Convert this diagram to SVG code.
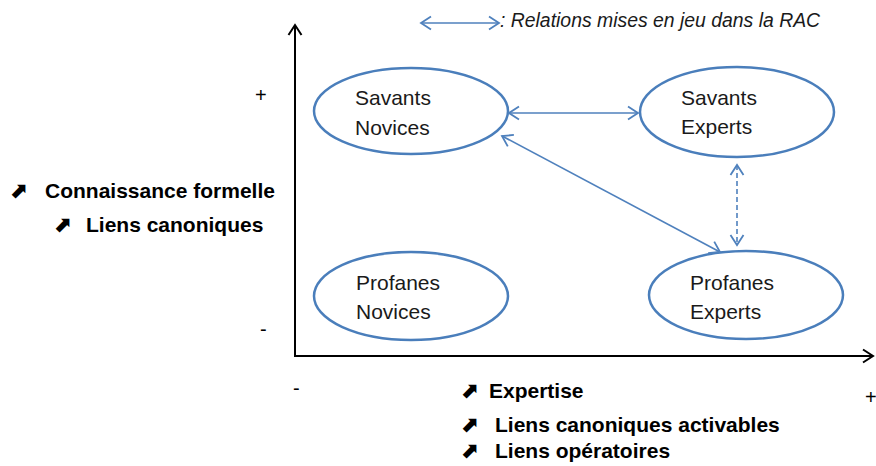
<svg xmlns="http://www.w3.org/2000/svg" width="876" height="466" viewBox="0 0 876 466">
<style>
.node ellipse{fill:none;stroke:#4A7EBB;stroke-width:2.5}
.lbl{font-family:"Liberation Sans",Arial,sans-serif;font-size:21px;fill:#1a1a1a}
.bold{font-family:"Liberation Sans",Arial,sans-serif;font-size:21px;font-weight:bold;fill:#000}
.sym{font-family:"DejaVu Sans",sans-serif;font-size:22px;font-weight:bold;fill:#000}
.conn{stroke:#4F81BD;stroke-width:1.6;fill:none}
.axis{stroke:#000;stroke-width:2;fill:none}
.sign{font-family:"Liberation Sans",Arial,sans-serif;font-size:20px;fill:#000}
</style>
<defs>
<marker id="ab" markerWidth="14" markerHeight="16" refX="11" refY="7" orient="auto-start-reverse" markerUnits="userSpaceOnUse" viewBox="0 0 14 14">
<path d="M1,0.5 L11,7 L1,13.5" fill="none" stroke="#4F81BD" stroke-width="1.8"/>
</marker>
<marker id="ak" markerWidth="14" markerHeight="16" refX="11" refY="7" orient="auto" markerUnits="userSpaceOnUse" viewBox="0 0 14 14">
<path d="M1,0.5 L11,7 L1,13.5" fill="none" stroke="#000" stroke-width="2"/>
</marker>
</defs>
<g id="axes">
<line class="axis" x1="295" y1="356" x2="295" y2="25" marker-end="url(#ak)"/>
<line class="axis" x1="294" y1="356" x2="873" y2="356" marker-end="url(#ak)"/>
</g>
<g id="legend">
<line class="conn" x1="421" y1="23" x2="499" y2="23" marker-start="url(#ab)" marker-end="url(#ab)"/>
<text x="500" y="27" font-family="'Liberation Sans',Arial,sans-serif" font-size="19.4" font-style="italic" fill="#1a1a1a">: Relations mises en jeu dans la RAC</text>
</g>
<g id="node-savants-novices" class="node">
<ellipse cx="411" cy="111" rx="97" ry="43"/>
<text class="lbl" x="355" y="105">Savants</text>
<text class="lbl" x="355" y="135">Novices</text>
</g>
<g id="node-savants-experts" class="node">
<ellipse cx="737" cy="112" rx="97" ry="45"/>
<text class="lbl" x="681" y="105">Savants</text>
<text class="lbl" x="681" y="134">Experts</text>
</g>
<g id="node-profanes-novices" class="node">
<ellipse cx="411" cy="296" rx="97" ry="44"/>
<text class="lbl" x="356" y="290">Profanes</text>
<text class="lbl" x="356" y="319">Novices</text>
</g>
<g id="node-profanes-experts" class="node">
<ellipse cx="746" cy="295" rx="97" ry="44"/>
<text class="lbl" x="690" y="290">Profanes</text>
<text class="lbl" x="690" y="319">Experts</text>
</g>
<g id="connectors">
<line class="conn" x1="509" y1="113" x2="638" y2="113" marker-start="url(#ab)" marker-end="url(#ab)"/>
<line class="conn" x1="502" y1="136" x2="720" y2="252" marker-start="url(#ab)" marker-end="url(#ab)"/>
<line class="conn" x1="737" y1="165" x2="737" y2="245" stroke-dasharray="5,3" marker-start="url(#ab)" marker-end="url(#ab)"/>
</g>
<g id="labels">
<text class="sign" x="255" y="102">+</text>
<text class="sign" x="260" y="336">-</text>
<text class="sign" x="293" y="395">-</text>
<text class="sign" x="865" y="404">+</text>
<text class="sym" x="9" y="198">⬈</text>
<text class="bold" x="45" y="198">Connaissance formelle</text>
<text class="sym" x="53" y="232">⬈</text>
<text class="bold" x="86" y="232">Liens canoniques</text>
<text class="sym" x="460" y="398">⬈</text>
<text class="bold" x="489" y="398">Expertise</text>
<text class="sym" x="460" y="432">⬈</text>
<text class="bold" x="495" y="432">Liens canoniques activables</text>
<text class="sym" x="460" y="458">⬈</text>
<text class="bold" x="495" y="458">Liens opératoires</text>
</g>
</svg>
